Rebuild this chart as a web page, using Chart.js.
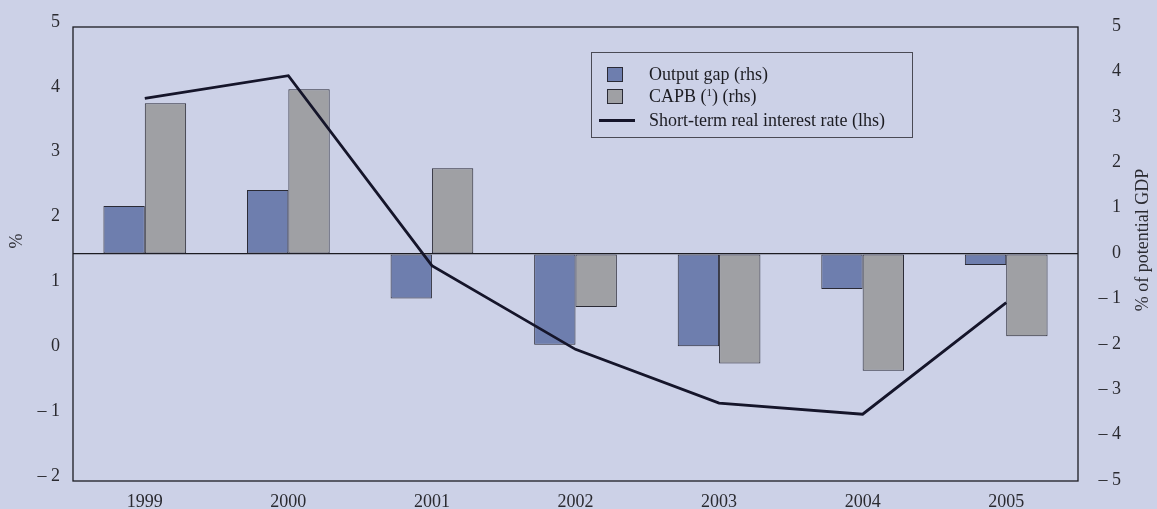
<!DOCTYPE html>
<html><head><meta charset="utf-8">
<script src="https://cdn.jsdelivr.net/npm/chart.js@4.4.1/dist/chart.umd.min.js"></script>
<style>
html,body{margin:0;padding:0;background:#ccd1e7;}
#wrap{position:relative;width:1157px;height:509px;background:#ccd1e7;}
canvas{display:block;}
#legend{position:absolute;left:591px;top:52px;width:322px;height:86px;border:1px solid #4a4a55;box-sizing:border-box;font-family:"Liberation Serif",serif;font-size:18px;color:#1c1c22;}
.item{position:absolute;left:0;width:100%;height:22px;}
.sw{position:absolute;box-sizing:border-box;border:1px solid #2a2a35;}
.ln{position:absolute;height:3px;background:#15152a;}
.tx{position:absolute;left:57px;top:0;line-height:22px;white-space:nowrap;}
</style></head>
<body>
<div id="wrap">
<canvas id="c" width="1157" height="509"></canvas>
<div id="legend"></div>
</div>
<script>
const categories = ['1999','2000','2001','2002','2003','2004','2005'];
const outputGap = [1.06, 1.41, -0.98, -2.00, -2.03, -0.77, -0.24];
const capb      = [3.32, 3.63, 1.89, -1.17, -2.41, -2.57, -1.81];
const realRate  = [3.90, 4.25, 1.32, 0.03, -0.80, -0.97, 0.75];
const leftTickValues  = [-2,-1,0,1,2,3,4,5];
const leftTickLabels  = ['– 2','– 1','0','1','2','3','4','5'];
const rightTickValues = [-5,-4,-3,-2,-1,0,1,2,3,4,5];
const rightTickLabels = ['– 5','– 4','– 3','– 2','– 1','0','1','2','3','4','5'];
const seriesLabels = ['Output gap (rhs)', 'CAPB (<sup style="font-size:11px;vertical-align:6px;line-height:0">1</sup>) (rhs)', 'Short-term real interest rate (lhs)'];
const leftTitle = '%';
const rightTitle = '% of potential GDP';

const BLUE = '#6e7eae', GRAY = '#9fa0a4', LINE = '#15152a', EDGE = '#2a2a35';
const FONT = {family: '"Liberation Serif", "Times New Roman", serif', size: 18};

const frame = {
  id: 'frame',
  beforeDatasetsDraw(chart) {
    const {ctx, chartArea: a} = chart;
    ctx.save();
    ctx.strokeStyle = '#1c1c22';
    ctx.lineWidth = 1.3;
    ctx.strokeRect(a.left, a.top, a.right - a.left, a.bottom - a.top);
    ctx.restore();
  },
  afterDraw(chart) {
    const {ctx} = chart;
    ctx.save();
    ctx.fillStyle = '#2a2a30';
    ctx.font = '18px "Liberation Serif", serif';
    ctx.textAlign = 'center';
    ctx.textBaseline = 'middle';
    ctx.translate(17, 241); ctx.rotate(-Math.PI/2); ctx.fillText(leftTitle, 0, 0);
    ctx.restore();
    ctx.save();
    ctx.fillStyle = '#2a2a30';
    ctx.font = '18px "Liberation Serif", serif';
    ctx.textAlign = 'center';
    ctx.textBaseline = 'middle';
    ctx.translate(1143, 240); ctx.rotate(-Math.PI/2); ctx.fillText(rightTitle, 0, 0);
    ctx.restore();
  }
};

const chart = new Chart(document.getElementById('c'), {
  data: {
    labels: categories,
    datasets: [
      {type: 'line', label: 'Short-term real interest rate (lhs)', data: realRate, yAxisID: 'yL', order: 0,
       borderColor: LINE, borderWidth: 2.8, pointRadius: 0, tension: 0, fill: false},
      {type: 'bar', label: 'Output gap (rhs)', data: outputGap, yAxisID: 'yR', order: 1,
       backgroundColor: BLUE, borderColor: EDGE, borderWidth: 1, borderSkipped: false,
       categoryPercentage: 0.576, barPercentage: 1.0},
      {type: 'bar', label: 'CAPB (1) (rhs)', data: capb, yAxisID: 'yR', order: 2,
       backgroundColor: GRAY, borderColor: EDGE, borderWidth: 1, borderSkipped: false,
       categoryPercentage: 0.576, barPercentage: 1.0}
    ]
  },
  options: {
    responsive: false, animation: false, devicePixelRatio: 1,
    layout: {padding: {top: 27, left: 0, right: 36, bottom: 0}},
    plugins: {legend: {display: false}, tooltip: {enabled: false}},
    scales: {
      x: {
        grid: {display: false, drawTicks: false}, border: {display: false},
        ticks: {font: FONT, color: '#2a2a30', padding: 10, maxRotation: 0},
        afterFit(s) { s.height = 28; }
      },
      yL: {
        position: 'left', min: -2, max: 5,
        grid: {display: false, drawTicks: false}, border: {display: false},
        ticks: {font: FONT, color: '#2a2a30', padding: 13, labelOffset: -5, stepSize: 1,
                callback: v => leftTickLabels[leftTickValues.indexOf(v)]},
        afterFit(s) { s.width = 73; }
      },
      yR: {
        position: 'right', min: -5, max: 5,
        grid: {drawTicks: false, lineWidth: 1.2,
               color: c => (c.tick && c.tick.value === 0) ? '#1c1c22' : 'rgba(0,0,0,0)'},
        border: {display: false},
        ticks: {font: FONT, color: '#2a2a30', crossAlign: 'far', stepSize: 1, labelOffset: -1,
                callback: v => rightTickLabels[rightTickValues.indexOf(v)]},
        afterFit(s) { s.width = 43; }
      }
    }
  },
  plugins: [frame]
});

// HTML legend built from the datasets
const lg = document.getElementById('legend');
const entries = [
  {kind: 'box', color: BLUE, label: seriesLabels[0], top: 10},
  {kind: 'box', color: GRAY, label: seriesLabels[1], top: 32},
  {kind: 'line', color: LINE, label: seriesLabels[2], top: 56}
];
entries.forEach(e => {
  const it = document.createElement('div');
  it.className = 'item'; it.style.top = e.top + 'px';
  const sw = document.createElement('div');
  if (e.kind === 'box') {
    sw.className = 'sw';
    sw.style.cssText = 'left:15px;top:4px;width:16px;height:15px;background:' + e.color + ';';
  } else {
    sw.className = 'ln';
    sw.style.cssText = 'left:7px;top:10px;width:36px;background:' + e.color + ';';
  }
  const tx = document.createElement('div');
  tx.className = 'tx'; tx.innerHTML = e.label;
  it.appendChild(sw); it.appendChild(tx);
  lg.appendChild(it);
});
</script>
</body></html>
